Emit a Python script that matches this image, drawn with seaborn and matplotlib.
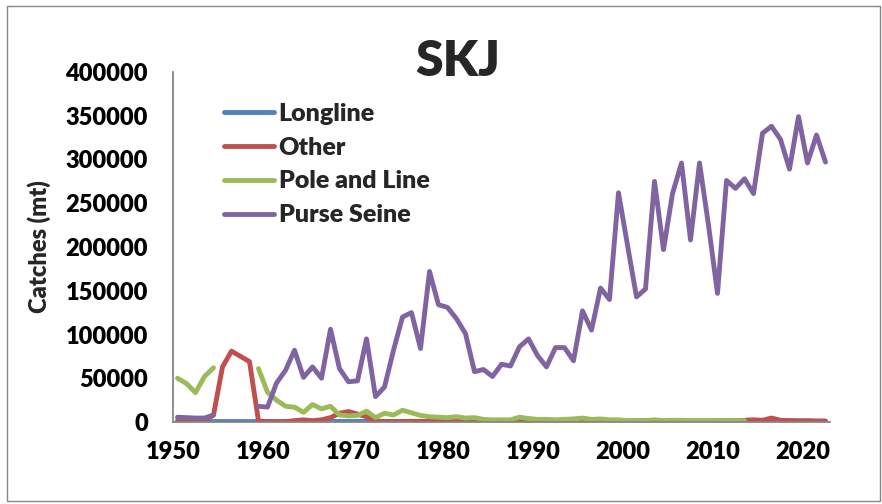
import numpy as np
import pandas as pd
import matplotlib
matplotlib.use("Agg")
import matplotlib.pyplot as plt
from matplotlib.lines import Line2D
from matplotlib.patches import Rectangle
import seaborn as sns

# ---- data ----
years = list(range(1950, 2023))
nan = np.nan

longline = [0, 0, 0, 0, 500, 500, 500, 500, 500, 500,          # 1950-59
            300, 300, 300, 300, 300, 300, 500, 600, 600, 600,  # 1960-69
            600, 600, 500, 500, 500, 500, 500, 500, 500, 500,  # 1970-79
            500, 500, 500, 500, 500, 500, 500, 500, 500, 500,  # 1980-89
            800, 800, 800, 800, 800, 800, 800, 800, 800, 1000, # 1990-99
            1000, 1500, 1500, 1000, 1000, 1000, 1000, 1000, 1000, 1000,  # 2000-09
            1200, 1500, 1500, 1500, 1000, 1000, 1000, 1000, 1500, 1500,  # 2010-19
            1000, 1000, 1000]                                  # 2020-22

other = [1500, 1500, 1000, 1000, 8000, 63000, 81000, 75000, 69000, 1000,
         500, 500, 500, 1500, 2500, 1500, 2500, 5000, 10000, 12000,
         9000, 6000, 1000, 500, 500, 500, 800, 800, 800, 800,
         800, 800, 800, 800, 800, 800, 800, 800, 800, 800,
         800, 800, 800, 800, 800, 800, 800, 800, 800, 800,
         800, 800, 800, 1200, 800, 1200, 1000, 1000, 1000, 1000,
         1000, 1000, 1200, 2000, 2500, 2000, 4500, 2000, 1500, 1000,
         1500, 1000, 1000]

pole_and_line = [50000, 44000, 33500, 52000, 62000, nan, nan, nan, nan, 61000,
                 34000, 25000, 18000, 17000, 11000, 20000, 15000, 18000, 8000, 7000,
                 7500, 12500, 5000, 10000, 8000, 13500, 10500, 7500, 6000, 5500,
                 5000, 6000, 4500, 5000, 3000, 2500, 2500, 2500, 5500, 4000,
                 3000, 3000, 2500, 3000, 3500, 4500, 3000, 3500, 2500, 2500,
                 1500, 1500, 1500, 2500, 1500, 2000, 2000, 1500, 1500, 1500,
                 1500, 1500, 1500, 1500, nan, nan, nan, nan, nan, nan,
                 nan, nan, nan]

purse_seine = [5500, 5000, 4500, 4500, 8000, nan, nan, nan, nan, 18000,
               17000, 44500, 59000, 82000, 51000, 63000, 50000, 106000, 61000, 46000,
               47000, 95000, 29000, 40000, 82000, 120000, 125000, 84000, 172000, 134000,
               131000, 118000, 101000, 57500, 60000, 52000, 66000, 64000, 86000, 95000,
               76000, 63000, 85000, 85000, 70000, 127000, 105000, 153000, 140000, 262000,
               202000, 143000, 152000, 275000, 197000, 261000, 296000, 208000, 296000, 225000,
               147000, 276000, 267000, 278000, 261000, 330000, 338000, 323000, 289000, 349000,
               296000, 328000, 297000]

gears = ["Longline", "Other", "Pole and Line", "Purse Seine"]
colors = ["#4F81BD", "#C0504D", "#9BBB59", "#8064A2"]
series = [longline, other, pole_and_line, purse_seine]

sns.set_style("white")
plt.rcParams["font.family"] = ["Lato", "DejaVu Sans"]
plt.rcParams["font.weight"] = "heavy"

fig = plt.figure(figsize=(8.82, 5.04), dpi=100)
ax = fig.add_axes([173 / 882, 82 / 504, 657 / 882, 350 / 504])

for name, vals, c in zip(gears, series, colors):
    df = pd.DataFrame({"year": years, "catch": vals})
    # split into segments so gaps (missing years) stay gaps
    df["seg"] = df["catch"].isna().cumsum()
    df = df.dropna()
    sns.lineplot(data=df, x="year", y="catch", units="seg", estimator=None,
                 color=c, linewidth=3.5, legend=False, ax=ax)

ax.set_xlim(1949.5, 2022.5)
ax.set_ylim(0, 400000)
ax.set_xticks(np.arange(1949.5, 2022, 10))
ax.set_xticklabels([str(y) for y in range(1950, 2030, 10)], fontweight="heavy")
ax.set_yticks(range(0, 400001, 50000))
ax.set_yticklabels([str(v) for v in range(0, 400001, 50000)], fontweight="heavy")

for s in ["top", "right"]:
    ax.spines[s].set_visible(False)
for s in ["left", "bottom"]:
    ax.spines[s].set_color("#868686")
    ax.spines[s].set_linewidth(1.3)
ax.tick_params(axis="both", which="major", direction="out", length=6,
               width=1.3, color="#868686", labelsize=17, labelcolor="black")
ax.tick_params(axis="y", pad=12)
ax.tick_params(axis="x", pad=8)
ax.set_xlabel("")
ax.set_ylabel("Catches (mt)", fontsize=17, fontweight="heavy")
ax.yaxis.set_label_coords(-0.186, 0.5)

handles = [Line2D([0], [0], color=c, linewidth=3.5) for c in colors]
leg = ax.legend(handles, gears, loc="upper left", bbox_to_anchor=(0.062, 0.94),
                frameon=False, prop={"size": 18, "weight": "heavy"},
                handlelength=2.0, handletextpad=0.2,
                labelspacing=0.47, borderaxespad=0)

fig.text(458 / 882, 1 - 62 / 504, "SKJ", ha="center", va="center",
         fontsize=36, fontweight="heavy")

fig.patches.append(Rectangle((7 / 882, 3 / 504), 873 / 882, 495 / 504,
                             transform=fig.transFigure, fill=False,
                             edgecolor="#868686", linewidth=1.0))

fig.savefig("out.png", dpi=100)
